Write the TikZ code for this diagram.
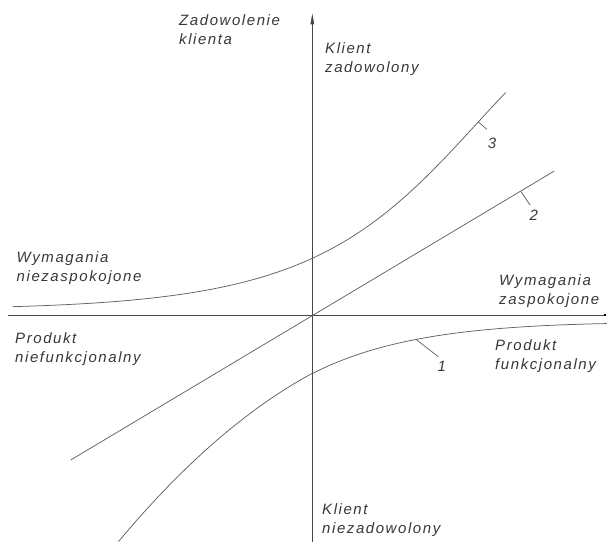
\documentclass[tikz,border=0pt]{standalone}
\usepackage{fontspec}
\setmainfont{Liberation Sans}
\usetikzlibrary{arrows.meta,calc}
\newfontfamily\labfamily[LetterSpace=10.5]{Liberation Sans}
\begin{document}
\begin{tikzpicture}[x=1pt,y=-1pt,
  declare function={
    cthree(\t)=315-exp(4.2+0.81*((\t-332.3)/100)-ifthenelse(\t<332.3,0.015667,0.038333)*((\t-332.3)/100)*((\t-332.3)/100)*((\t-332.3)/100));
    coneleft(\t)=373.3-0.54*(\t-312.3)+0.0017*(\t-312.3)*(\t-312.3);
    coneright(\t)=315+exp(4.07-0.87*((\t-312.3)/100)+0.025*((\t-312.3)/100)*((\t-312.3)/100)*((\t-312.3)/100));
    cone(\t)=ifthenelse(\t<312.3,coneleft(\t),coneright(\t));
  },
  axis/.style={draw=black!72,line width=0.8pt},
  curve/.style={draw=black!62,line width=0.75pt},
  leader/.style={draw=black!62,line width=0.7pt},
  lab/.style={anchor=north west,inner sep=0pt,align=left,text=black!78,
    font=\labfamily\itshape\fontsize{15}{19}\selectfont},
  num/.style={anchor=center,inner sep=0pt,text=black!78,
    font=\labfamily\itshape\fontsize{15}{19}\selectfont}]
\useasboundingbox (0,0) rectangle (607,542);

% axes
\coordinate (O) at (312.3,315);
\coordinate (xl) at (8.3,315);
\coordinate (xr) at (605,315);
\coordinate (yb) at (312.3,542);
\coordinate (yt) at (312.3,13.3);
\draw[axis] (xl) -- (xr);
\fill[black] ($(xr)+(-1.3,-1.3)$) rectangle ($(xr)+(1.3,1.3)$);
\draw[axis,-{Triangle[length=11pt,width=3.6pt]}] (yb) -- (yt);

% curve 3 (attractive requirements)
\draw[curve] plot[domain=12.7:505.7,samples=160] (\x,{cthree(\x)});

% line 2 (one-dimensional requirements)
\coordinate (l2a) at (70.7,460);
\coordinate (l2b) at (554.3,171);
\draw[curve] (l2a) -- (l2b);

% curve 1 (must-be requirements)
\draw[curve] plot[domain=118.5:312.3,samples=80] (\x,{coneleft(\x)});
\draw[curve] plot[domain=312.3:607,samples=120] (\x,{coneright(\x)});

% leaders and numbers
\coordinate (t3a) at (478.3,{cthree(478.3)});
\coordinate (t3b) at (486.7,129.3);
\draw[leader] (t3a) -- (t3b);
\node[num] (n3) at (492,143.7) {3};

\coordinate (t2a) at (521,191.5);
\coordinate (t2b) at (530,205);
\draw[leader] (t2a) -- (t2b);
\node[num] (n2) at (533.7,215) {2};

\coordinate (t1a) at (416,{cone(416)});
\coordinate (t1b) at (438.3,356.7);
\draw[leader] (t1a) -- (t1b);
\node[num] (n1) at (441.7,366) {1};

% labels
\node[lab] (ylab) at (179,14) {Zadowolenie\\klienta};
\node[lab] (kz) at (325,42.7) {Klient\\zadowolony};
\node[lab] (wn) at (16.5,251.7) {Wymagania\\niezaspokojone};
\node[lab] (wz) at (499,274) {Wymagania\\zaspokojone};
\node[lab] (pn) at (15,332.7) {Produkt\\niefunkcjonalny};
\node[lab] (pf) at (495,339) {Produkt\\funkcjonalny};
\node[lab] (kn) at (322,503) {Klient\\niezadowolony};
\end{tikzpicture}
\end{document}
